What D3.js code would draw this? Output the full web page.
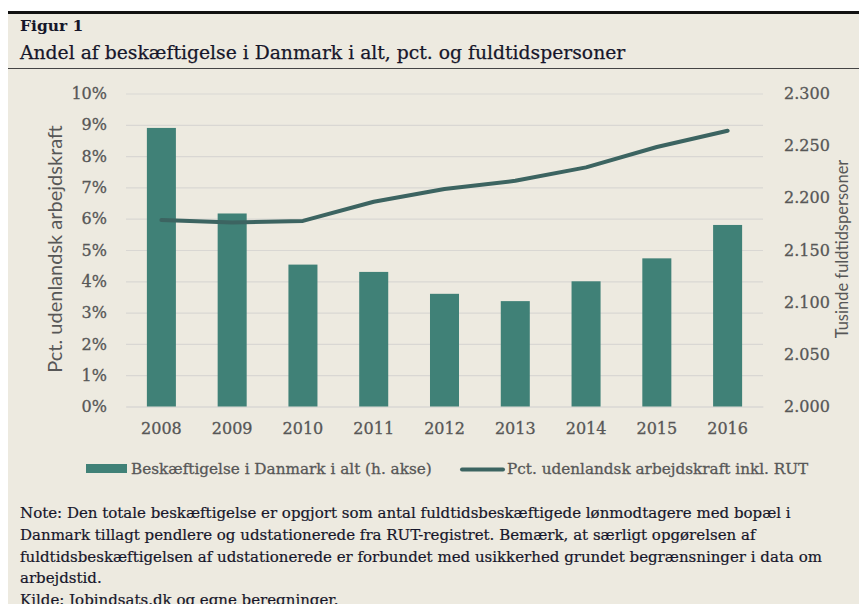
<!DOCTYPE html>
<html>
<head>
<meta charset="utf-8">
<script src="https://cdn.jsdelivr.net/npm/d3@7"></script>
<style>
  body { margin: 0; background: #fff; }
  svg { display: block; }
</style>
</head>
<body>
<div id="chart"></div>
<script>
// data
var years = ["2008", "2009", "2010", "2011", "2012", "2013", "2014", "2015", "2016"];
// Beskæftigelse i Danmark i alt, tusinde fuldtidspersoner (h. akse)
var employment = [2267, 2185, 2136, 2129, 2108, 2101, 2120, 2142, 2174];
// Pct. udenlandsk arbejdskraft inkl. RUT
var foreignShare = [0.0596, 0.0588, 0.0593, 0.0654, 0.0695, 0.0721, 0.0764, 0.0829, 0.0881];
var leftTicks = [0, 0.01, 0.02, 0.03, 0.04, 0.05, 0.06, 0.07, 0.08, 0.09, 0.10];
var rightTicks = [2000, 2050, 2100, 2150, 2200, 2250, 2300];
var noteLines = [
  "Note: Den totale beskæftigelse er opgjort som antal fuldtidsbeskæftigede lønmodtagere med bopæl i",
  "Danmark tillagt pendlere og udstationerede fra RUT-registret. Bemærk, at særligt opgørelsen af",
  "fuldtidsbeskæftigelsen af udstationerede er forbundet med usikkerhed grundet begrænsninger i data om",
  "arbejdstid.",
  "Kilde: Jobindsats.dk og egne beregninger."
];

var serif = "'DejaVu Serif', serif";
var sans = "Lato, 'Open Sans', sans-serif";
var barColor = "#408177";
var lineColor = "#3c6461";
var tickColor = "#575757";
var textColor = "#16162a";

Figure = function (_parentElement) {
  this.parentElement = _parentElement;
  this.width = 859;
  this.height = 604;

  // plot area
  this.plot = { left: 126, right: 763, top: 93.5, bottom: 406.5 };

  this.initSvg();
  this.drawHeader();
  this.drawAxes();
  this.drawMarks();
  this.drawLegend();
  this.drawNote();
}

// shrink a text element until it fits a target width
function fitText(sel, target) {
  var node = sel.node();
  var size = parseFloat(sel.attr("font-size"));
  while (node.getComputedTextLength() > target && size > 6) {
    size -= 0.25;
    sel.attr("font-size", size);
  }
}

Figure.prototype.initSvg = function () {
  var vis = this;
  vis.svg = d3.select("#" + vis.parentElement).append("svg")
    .attr("width", vis.width)
    .attr("height", vis.height);

  vis.svg.append("rect")
    .attr("x", 8).attr("y", 12)
    .attr("width", vis.width - 8).attr("height", vis.height - 12)
    .attr("fill", "#edeae0");
}

Figure.prototype.drawHeader = function () {
  var vis = this;

  vis.svg.append("line")
    .attr("x1", 8).attr("x2", vis.width)
    .attr("y1", 12.5).attr("y2", 12.5)
    .attr("stroke", "#111").attr("stroke-width", 3);

  vis.svg.append("text")
    .attr("x", 20).attr("y", 31)
    .attr("font-family", serif).attr("font-size", 15.5).attr("font-weight", "bold")
    .attr("fill", textColor)
    .text("Figur 1");

  var title = vis.svg.append("text")
    .attr("x", 20).attr("y", 59)
    .attr("font-family", serif).attr("font-size", 20)
    .attr("fill", textColor)
    .attr("stroke", textColor).attr("stroke-width", 0.25)
    .text("Andel af beskæftigelse i Danmark i alt, pct. og fuldtidspersoner");
  fitText(title, 608);

  vis.svg.append("line")
    .attr("x1", 8).attr("x2", vis.width)
    .attr("y1", 68.5).attr("y2", 68.5)
    .attr("stroke", "#444").attr("stroke-width", 1.2);
}

Figure.prototype.drawAxes = function () {
  var vis = this;
  var p = vis.plot;

  vis.x = d3.scaleBand()
    .domain(years)
    .range([p.left, p.right])
    .paddingInner(0.59)
    .paddingOuter(0.295);

  vis.yLeft = d3.scaleLinear().domain([0, 0.10]).range([p.bottom, p.top]);
  vis.yRight = d3.scaleLinear().domain([2000, 2300]).range([p.bottom, p.top]);

  // gridlines
  vis.svg.append("g")
    .attr("class", "grid")
    .attr("transform", "translate(" + p.left + ",0)")
    .call(d3.axisLeft(vis.yLeft).tickValues(leftTicks).tickSize(-(p.right - p.left)).tickFormat(""))
    .call(g => g.select(".domain").remove())
    .call(g => g.selectAll("line").attr("stroke", "#d9d7d3").attr("stroke-width", 1.2));

  // left axis labels
  vis.svg.append("g")
    .attr("class", "y-axis")
    .attr("transform", "translate(" + (p.left - 16) + ",0)")
    .call(d3.axisLeft(vis.yLeft).tickValues(leftTicks).tickSize(0).tickFormat(d3.format(".0%")))
    .call(g => g.select(".domain").remove())
    .call(g => g.selectAll("text")
      .attr("font-family", serif).attr("font-size", 16).attr("fill", tickColor)
      .attr("stroke", tickColor).attr("stroke-width", 0.3));

  // right axis labels
  vis.svg.append("g")
    .attr("class", "y-axis-right")
    .attr("transform", "translate(" + (p.right + 18) + ",0)")
    .call(d3.axisRight(vis.yRight).tickValues(rightTicks).tickSize(0)
      .tickFormat(d => d3.format(",")(d).replace(",", ".")))
    .call(g => g.select(".domain").remove())
    .call(g => g.selectAll("text")
      .attr("font-family", serif).attr("font-size", 16).attr("fill", tickColor)
      .attr("stroke", tickColor).attr("stroke-width", 0.3));

  // x-axis
  vis.svg.append("g")
    .attr("class", "x-axis")
    .attr("transform", "translate(0," + p.bottom + ")")
    .call(d3.axisBottom(vis.x).tickSize(0).tickPadding(16))
    .call(g => g.select(".domain").attr("stroke", "#d9d7d3").attr("stroke-width", 1.2))
    .call(g => g.selectAll("text")
      .attr("font-family", serif).attr("font-size", 16).attr("fill", tickColor)
      .attr("stroke", tickColor).attr("stroke-width", 0.3));

  // axis titles
  vis.svg.append("text")
    .attr("transform", "translate(62," + ((p.top + p.bottom) / 2 - 1) + ") rotate(-90)")
    .attr("text-anchor", "middle")
    .attr("font-family", sans).attr("font-size", 20).attr("fill", tickColor)
    .text("Pct. udenlandsk arbejdskraft");

  vis.svg.append("text")
    .attr("transform", "translate(848," + ((p.top + p.bottom) / 2 - 1) + ") rotate(-90)")
    .attr("text-anchor", "middle")
    .attr("font-family", sans).attr("font-size", 16.5).attr("fill", tickColor)
    .text("Tusinde fuldtidspersoner");
}

Figure.prototype.drawMarks = function () {
  var vis = this;
  var barData = years.map((y, i) => ({ year: y, value: employment[i] }));
  var lineData = years.map((y, i) => ({ year: y, value: foreignShare[i] }));

  vis.svg.append("g").selectAll("rect")
    .data(barData)
    .enter().append("rect")
    .attr("x", d => vis.x(d.year))
    .attr("width", vis.x.bandwidth())
    .attr("y", d => vis.yRight(d.value))
    .attr("height", d => vis.yRight(2000) - vis.yRight(d.value))
    .attr("fill", barColor);

  var line = d3.line()
    .x(d => vis.x(d.year) + vis.x.bandwidth() / 2)
    .y(d => vis.yLeft(d.value));

  vis.svg.append("path")
    .attr("d", line(lineData))
    .attr("fill", "none")
    .attr("stroke", lineColor)
    .attr("stroke-width", 4)
    .attr("stroke-linecap", "round")
    .attr("stroke-linejoin", "round");
}

Figure.prototype.drawLegend = function () {
  var vis = this;

  vis.svg.append("rect")
    .attr("x", 86).attr("y", 464)
    .attr("width", 41).attr("height", 9)
    .attr("fill", barColor);

  var t1 = vis.svg.append("text")
    .attr("x", 131).attr("y", 474)
    .attr("font-family", serif).attr("font-size", 16).attr("fill", tickColor)
    .attr("stroke", tickColor).attr("stroke-width", 0.3)
    .text("Beskæftigelse i Danmark i alt (h. akse)");
  fitText(t1, 302);

  vis.svg.append("line")
    .attr("x1", 462).attr("x2", 503)
    .attr("y1", 469.5).attr("y2", 469.5)
    .attr("stroke", lineColor).attr("stroke-width", 4)
    .attr("stroke-linecap", "round");

  var t2 = vis.svg.append("text")
    .attr("x", 507).attr("y", 474)
    .attr("font-family", serif).attr("font-size", 16).attr("fill", tickColor)
    .attr("stroke", tickColor).attr("stroke-width", 0.3)
    .text("Pct. udenlandsk arbejdskraft inkl. RUT");
  fitText(t2, 305);
}

Figure.prototype.drawNote = function () {
  var vis = this;

  var note = vis.svg.append("g").selectAll("text")
    .data(noteLines)
    .enter().append("text")
    .attr("x", 20)
    .attr("y", (d, i) => 518 + i * 21.8)
    .attr("font-family", serif).attr("font-size", 15).attr("fill", textColor)
    .attr("stroke", textColor).attr("stroke-width", 0.2)
    .text(d => d);

  // first line is the widest, use it to size the rest
  var first = d3.select(note.nodes()[0]);
  fitText(first, 803);
  note.attr("font-size", first.attr("font-size"));
}

new Figure("chart");
</script>
</body>
</html>
